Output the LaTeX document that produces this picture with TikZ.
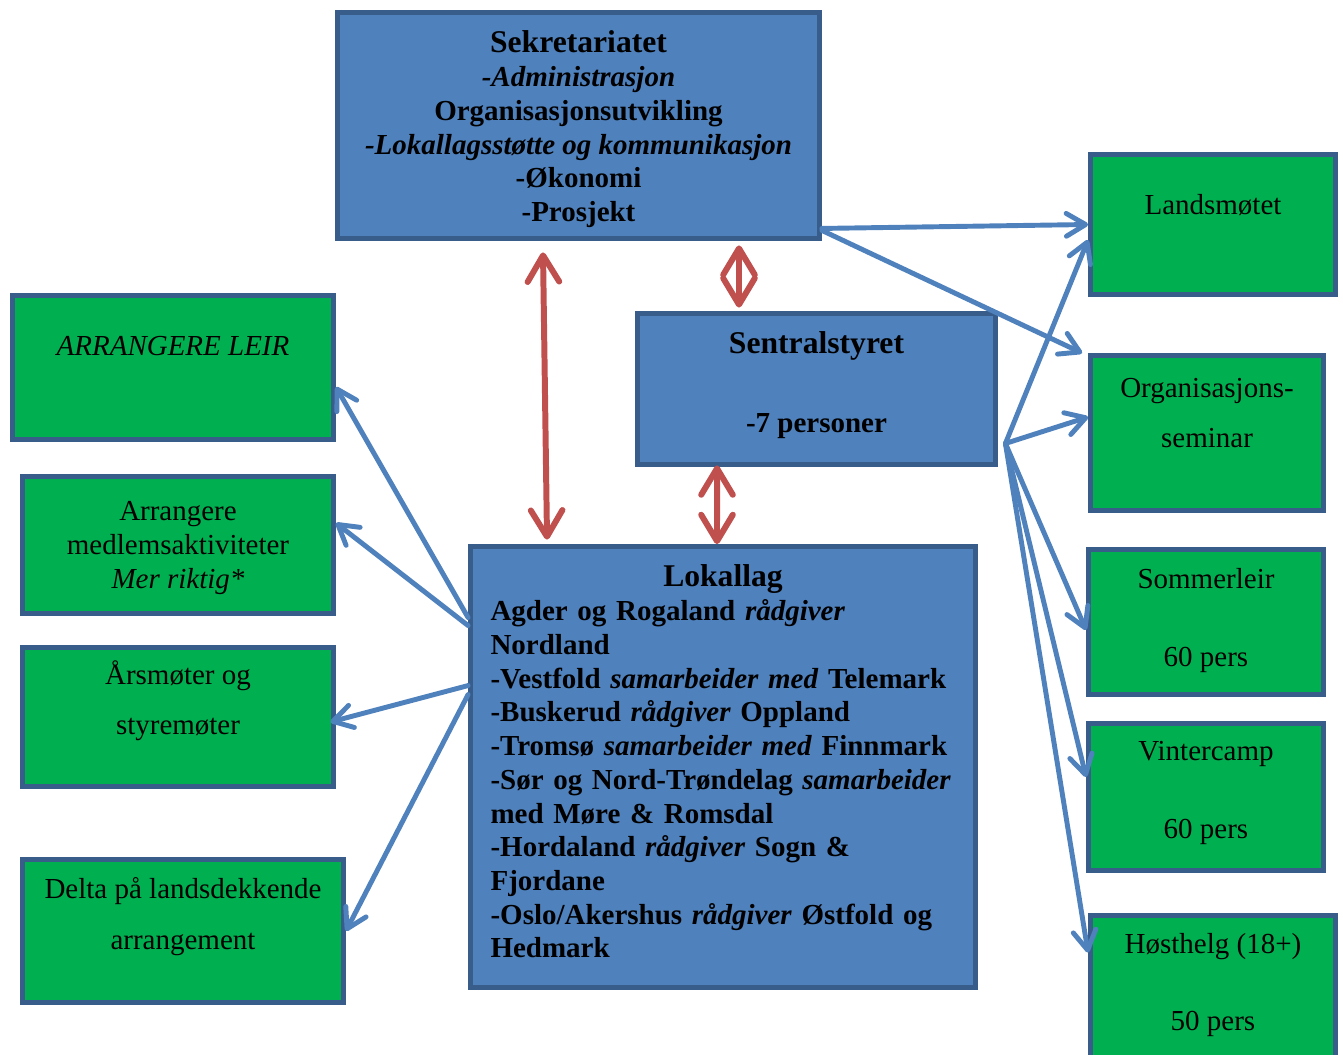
\documentclass[tikz,border=0pt]{standalone}
\usepackage{fontspec}
\setmainfont{Liberation Serif}
\usetikzlibrary{positioning, arrows.meta}

\definecolor{boxgreen}{HTML}{00B050}
\definecolor{boxblue}{HTML}{4F81BD}
\definecolor{boxline}{HTML}{385D8A}
\definecolor{linkblue}{HTML}{4F81BD}
\definecolor{linkred}{HTML}{C0504D}

\tikzset{
    greenbox/.style={rectangle, draw=boxline, fill=boxgreen, line width=2.8pt, inner sep=0pt},
    bluebox/.style={rectangle, draw=boxline, fill=boxblue, line width=2.8pt, inner sep=0pt},
    txt/.style={inner sep=0pt, align=center},
    lines1/.style={font=\fontsize{16.5}{19.2}\selectfont},
    lines15/.style={font=\fontsize{16.5}{28.6}\selectfont},
    lines2/.style={font=\fontsize{16.5}{44.2}\selectfont},
    link/.style={draw=linkblue, line width=2.8pt, line cap=round,
        -{Straight Barb[length=11pt, width=13pt, round]}},
    twoway/.style={draw=linkred, line width=3.4pt, line cap=round,
        {Straight Barb[length=15pt, width=18pt, round]}-{Straight Barb[length=15pt, width=18pt, round]}}
}

\begin{document}
\begin{tikzpicture}[x=0.02cm, y=-0.02cm]
        \useasboundingbox (0,0) rectangle (1343,1055);

        %Boxes middle
        \node[bluebox, minimum width=9.64cm, minimum height=4.52cm](sek) at (578.5,125.5){};
        \node[bluebox, minimum width=7.16cm, minimum height=3.02cm](sentral) at (816.5,389){};
        \node[bluebox, minimum width=10.1cm, minimum height=8.82cm](lokal) at (723,767){};

        \node[txt, font=\fontsize{16.5}{19.2}\selectfont\bfseries, below = 0.41cm of sek.north](sek-t){%
            {\fontsize{18}{19.2}\selectfont Sekretariatet}\\
            \textit{-Administrasjon}\\
            Organisasjonsutvikling\\
            \textit{-Lokallagsstøtte og kommunikasjon}\\
            -Økonomi\\
            -Prosjekt};
        \node[txt, font=\fontsize{16.5}{44.8}\selectfont\bfseries, below = 0.41cm of sentral.north](sentral-t){%
            {\fontsize{18}{44.8}\selectfont Sentralstyret}\\
            -7 personer};
        \node[txt, align=left, text width=9.3cm, font=\fontsize{16.5}{19.2}\selectfont\bfseries,
            below = 0.41cm of lokal.north](lokal-t){%
            \makebox[9.3cm]{\fontsize{18}{19.2}\selectfont Lokallag}\\
            Agder og Rogaland \textit{rådgiver}\\
            Nordland\\
            -Vestfold \textit{samarbeider med} Telemark\\
            -Buskerud \textit{rådgiver} Oppland\\
            -Tromsø \textit{samarbeider med} Finnmark\\
            -Sør og Nord-Trøndelag \textit{samarbeider}\\
            med Møre \& Romsdal\\
            -Hordaland \textit{rådgiver} Sogn \&\\
            Fjordane\\
            -Oslo/Akershus \textit{rådgiver} Østfold og\\
            Hedmark};

        %Boxes left
        \node[greenbox, minimum width=6.42cm, minimum height=2.88cm](leir) at (173,367.5){};
        \node[greenbox, minimum width=6.22cm, minimum height=2.74cm](medlem) at (178,545){};
        \node[greenbox, minimum width=6.22cm, minimum height=2.78cm](aars) at (178,717){};
        \node[greenbox, minimum width=6.42cm, minimum height=2.86cm](delta) at (183,931){};

        \node[txt, lines1, below = 0.86cm of leir.north](leir-t){\textit{ARRANGERE LEIR}};
        \node[txt, lines1, below = 0.54cm of medlem.north](medlem-t){Arrangere\\medlemsaktiviteter\\\textit{Mer riktig*}};
        \node[txt, lines15, below = 0.3cm of aars.north](aars-t){Årsmøter og\\styremøter};
        \node[txt, lines15, below = 0.41cm of delta.north](delta-t){Delta på landsdekkende\\arrangement};

        %Boxes right
        \node[greenbox, minimum width=4.9cm, minimum height=2.8cm](lands) at (1213,224.5){};
        \node[greenbox, minimum width=4.66cm, minimum height=3.1cm](orgsem) at (1207,433){};
        \node[greenbox, minimum width=4.7cm, minimum height=2.9cm](sommer) at (1206,622){};
        \node[greenbox, minimum width=4.7cm, minimum height=2.94cm](vinter) at (1206,797){};
        \node[greenbox, minimum width=4.9cm, minimum height=3.2cm](host) at (1213,995.5){};

        \node[txt, lines1, below = 0.83cm of lands.north](lands-t){Landsmøtet};
        \node[txt, lines15, below = 0.5cm of orgsem.north](orgsem-t){Organisasjons-\\seminar};
        \node[txt, lines2, below = 0.42cm of sommer.north](sommer-t){Sommerleir\\60 pers};
        \node[txt, lines2, below = 0.4cm of vinter.north](vinter-t){Vintercamp\\60 pers};
        \node[txt, lines2, below = 0.39cm of host.north](host-t){Høsthelg (18+)\\50 pers};

        %Links
        \coordinate[xshift=0.15cm, yshift=0.47cm](fan) at (sentral.south east);

        \draw[link] ([yshift=0.25cm]sek.south east) -- (lands.west);
        \draw[link] ([yshift=0.21cm]sek.south east) -- ([xshift=-0.12cm]orgsem.north west);
        \draw[link] (fan) -- ([yshift=-0.31cm]lands.west);
        \draw[link] (fan) -- ([yshift=0.32cm]orgsem.west);
        \draw[link] (fan) -- ([yshift=-0.16cm]sommer.west);
        \draw[link] (fan) -- ([yshift=0.4cm]vinter.west);
        \draw[link] (fan) -- ([yshift=-0.79cm]host.north west);

        \draw[link] ([yshift=-1.47cm]lokal.north west) -- ([yshift=-0.39cm]leir.east);
        \draw[link] ([yshift=-1.63cm]lokal.north west) -- ([yshift=0.44cm]medlem.east);
        \draw[link] ([yshift=-2.83cm]lokal.north west) -- ([xshift=-0.11cm, yshift=-0.1cm]aars.east);
        \draw[link] ([yshift=-3.01cm]lokal.north west) -- (delta.east);

        \draw[twoway] ([xshift=-0.71cm, yshift=-0.23cm]sek.south) -- ([xshift=-3.52cm, yshift=0.09cm]lokal.north);
        \draw[twoway] ([xshift=3.21cm, yshift=-0.09cm]sek.south) -- ([xshift=-1.55cm, yshift=0.07cm]sentral.north);
        \draw[twoway] ([xshift=-1.99cm, yshift=0.03cm]sentral.south) -- ([xshift=-0.12cm]lokal.north);

    \end{tikzpicture}
\end{document}
